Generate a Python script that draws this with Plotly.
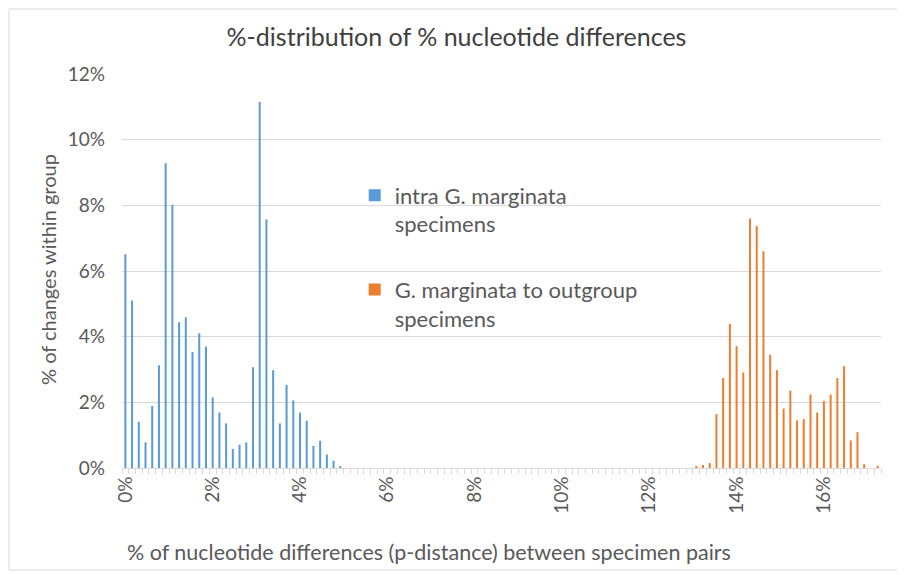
import plotly.graph_objects as go

# Number of nucleotide differences (category index); p-distance = k / 650 bp
SEQ_LEN = 650
N_CATEGORIES = 113

blue_k = list(range(0, 33))
blue_vals = [6.51, 5.10, 1.41, 0.78, 1.89, 3.13, 9.28, 8.02, 4.44, 4.59,
             3.53, 4.10, 3.70, 2.15, 1.69, 1.36, 0.58, 0.71, 0.78, 3.07,
             11.15, 7.57, 2.98, 1.36, 2.53, 2.06, 1.69, 1.44, 0.67, 0.83,
             0.41, 0.22, 0.06]

orange_k = list(range(85, 113))
orange_vals = [0.06, 0.09, 0.15, 1.64, 2.74, 4.39, 3.71, 2.91, 7.60, 7.37,
               6.60, 3.45, 2.98, 1.81, 2.36, 1.45, 1.49, 2.24, 1.69, 2.04,
               2.24, 2.74, 3.10, 0.84, 1.09, 0.12, 0.0, 0.07]

x_ticks = [0, 2, 4, 6, 8, 10, 12, 14, 16]
y_ticks = [0, 2, 4, 6, 8, 10, 12]

step = 100 / SEQ_LEN
blue_x = [k * step for k in blue_k]
orange_x = [k * step for k in orange_k]

FONT = "Lato, 'Open Sans', sans-serif"
GRAY = "#595959"
GRID = "#D9D9D9"

# page body adds an 8px offset; figure sized so plot area lands at x 122-881, y 74-468
W, H = 897, 567
ML, MR, MT, MB = 114, 24, 66, 107
PW, PH = W - ML - MR, H - MT - MB

fig = go.Figure()
fig.add_trace(go.Bar(x=blue_x, y=blue_vals, name="intra G. marginata<br>specimens",
                     marker=dict(color="#5B9BD5", line=dict(width=0)),
                     width=0.3 * step, legendgroup="a"))
fig.add_trace(go.Bar(x=orange_x, y=orange_vals, name="G. marginata to outgroup<br>specimens",
                     marker=dict(color="#ED7D31", line=dict(width=0)),
                     width=0.3 * step, legendgroup="b"))

fig.update_layout(
    width=W, height=H,
    paper_bgcolor="white", plot_bgcolor="white",
    barmode="overlay",
    margin=dict(l=ML, r=MR, t=MT, b=MB),
    font=dict(family=FONT, color=GRAY),
    title=dict(text="%-distribution of % nucleotide differences",
               x=0.5, xanchor="center", y=1 - 29 / H, yanchor="middle",
               font=dict(size=25, color="#404040", family=FONT)),
    legend=dict(x=0.30 + 5 / PW, y=0.745, xanchor="left", yanchor="top",
                bgcolor="rgba(0,0,0,0)", font=dict(size=22, color=GRAY),
                traceorder="grouped", tracegroupgap=34, valign="top",
                itemsizing="constant"),
    xaxis=dict(range=[-0.5 * step, (N_CATEGORIES - 0.5) * step],
               tickvals=x_ticks, ticktext=[f"{v}%" for v in x_ticks],
               tickangle=-90, ticks="", showgrid=False, zeroline=False,
               showline=True, linecolor=GRID, linewidth=1,
               tickfont=dict(size=19, color=GRAY),
               minor=dict(ticks="outside", ticklen=5, tickcolor=GRID, tickwidth=1,
                          tick0=-0.5 * step, dtick=step, showgrid=False)),
    yaxis=dict(range=[0, 12], tickvals=y_ticks, ticktext=[f"{v}%" for v in y_ticks],
               showgrid=True, gridcolor=GRID, gridwidth=1, zeroline=False,
               showline=False, ticks="", tickfont=dict(size=19, color=GRAY),
               ticklabelstandoff=16),
    annotations=[
        dict(text="% of changes within group", xref="paper", yref="paper",
             x=-74 / PW, y=(468 - 270) / PH, xanchor="center", yanchor="middle",
             textangle=-90, showarrow=False, font=dict(size=20, color=GRAY)),
        dict(text="% of nucleotide differences (p-distance) between specimen pairs",
             xref="paper", yref="paper", x=3 / PW, y=-(552 - 468) / PH, xanchor="left",
             yanchor="middle", showarrow=False, font=dict(size=21.5, color=GRAY)),
    ],
    shapes=[dict(type="rect", xref="paper", yref="paper",
                 x0=-113 / PW, x1=(902 - 122) / PW, y0=-(570 - 468) / PH,
                 y1=1 + (74 - 9) / PH,
                 line=dict(color="#D9D9D9", width=1), fillcolor="rgba(0,0,0,0)",
                 layer="below")],
)

fig.write_html("out.html")
